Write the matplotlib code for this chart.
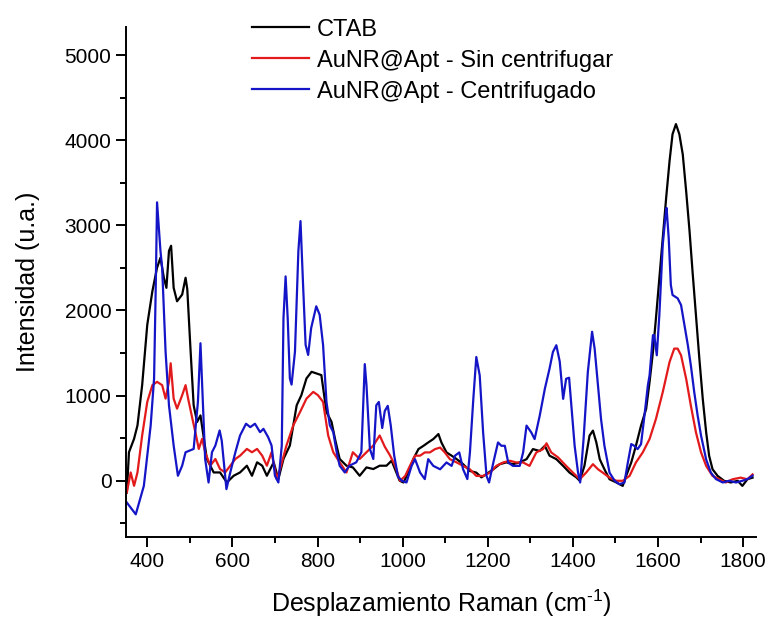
import matplotlib
matplotlib.use("Agg")
import matplotlib.pyplot as plt
from matplotlib.ticker import MultipleLocator

plt.rcParams["font.family"] = ["Liberation Sans", "DejaVu Sans"]
plt.rcParams["mathtext.fontset"] = "custom"
plt.rcParams["mathtext.rm"] = "Liberation Sans"

# Raman spectra (cm-1, a.u.)
ctab_x = [352, 357, 369, 377, 388, 400, 412, 423, 431, 439, 445, 451, 456, 462, 470,
          482, 490, 494, 501, 509, 517, 525, 532, 540, 556, 571, 587, 603, 618, 634,
          646, 658, 670, 681, 697, 708, 720, 735, 751, 762, 774, 786, 797, 809, 821,
          833, 841, 852, 868, 883, 899, 915, 931, 946, 962, 974, 982, 993, 1002, 1013,
          1025, 1037, 1049, 1060, 1072, 1084, 1091, 1103, 1115, 1127, 1142, 1158, 1173,
          1185, 1197, 1213, 1228, 1244, 1259, 1275, 1291, 1306, 1322, 1334, 1345, 1361,
          1377, 1392, 1408, 1416, 1427, 1439, 1447, 1455, 1463, 1474, 1486, 1502, 1517,
          1525, 1537, 1548, 1560, 1572, 1580, 1588, 1595, 1603, 1611, 1619, 1627, 1634,
          1642, 1650, 1658, 1666, 1674, 1681, 1689, 1697, 1705, 1713, 1720, 1728, 1740,
          1755, 1771, 1787, 1798, 1810, 1822]
ctab_y = [-138, 335, 493, 650, 1123, 1832, 2226, 2502, 2620, 2384, 2266, 2700, 2760, 2266, 2108,
          2187, 2384, 2250, 1596, 886, 690, 768, 532, 256, 98, 98, -20, 59, 98, 177,
          59, 217, 177, 59, 217, 20, 256, 414, 886, 1005, 1202, 1280, 1261, 1241, 808,
          690, 493, 256, 177, 157, 59, 157, 138, 177, 177, 236, 138, 0, -20, 96,
          254, 372, 411, 450, 490, 549, 450, 333, 295, 254, 195, 115, 96,
          40, 80, 135, 195, 216, 195, 216, 254, 372, 350, 411, 295, 254,
          175, 96, 40, 0, 175, 530, 589, 450, 253, 135, 18, -20, -60,
          57, 215, 411, 648, 844, 1159, 1513, 1906, 2378, 2850, 3322, 3755, 4070,
          4189, 4070, 3834, 3401, 2929, 2457, 1946, 1434, 962, 569, 293, 135, 57,
          0, -20, 0, -60, 18, 37]

sin_x = [352, 361, 369, 377, 388, 400, 412, 423, 435, 443, 451, 455, 462, 470, 482,
         490, 496, 506, 513, 521, 529, 536, 548, 560, 571, 583, 595, 607, 618, 634,
         646, 658, 670, 681, 692, 704, 712, 727, 743, 759, 774, 790, 801, 813, 825,
         837, 852, 868, 883, 899, 915, 931, 946, 958, 970, 982, 994, 1006, 1017, 1029,
         1041, 1052, 1064, 1076, 1088, 1099, 1111, 1127, 1142, 1158, 1173, 1189, 1205,
         1220, 1236, 1252, 1267, 1283, 1298, 1314, 1330, 1338, 1349, 1365, 1384, 1400,
         1416, 1431, 1447, 1459, 1470, 1486, 1502, 1517, 1533, 1548, 1564, 1580, 1595,
         1611, 1627, 1638, 1646, 1654, 1666, 1677, 1689, 1701, 1713, 1728, 1744, 1759,
         1775, 1794, 1810, 1822]
sin_y = [-138, 98, -59, 98, 532, 926, 1123, 1162, 1123, 965, 1162, 1380, 965, 847, 1005,
         1123, 965, 729, 571, 374, 493, 335, 177, 256, 138, 98, 177, 256, 295, 374,
         335, 374, 295, 177, 335, 20, 138, 414, 650, 808, 965, 1044, 1005, 926, 532,
         335, 217, 98, 335, 256, 335, 414, 532, 400, 300, 180, 0, 57, 175, 295,
         295, 333, 333, 372, 390, 333, 254, 215, 175, 135, 57, 57, 96,
         175, 215, 235, 215, 215, 175, 333, 372, 440, 333, 275, 175, 96,
         18, 96, 195, 135, 96, 37, 0, 0, 57, 215, 333, 490, 726,
         1041, 1395, 1552, 1552, 1474, 1198, 883, 569, 333, 175, 57, 18, -20,
         18, 37, 18, 75]

cen_x = [352, 373, 392, 408, 416, 420, 423, 431, 435, 443, 451, 462, 472, 482, 490,
         509, 519, 525, 529, 536, 544, 552, 560, 570, 575, 586, 595, 607, 618, 632,
         642, 653, 665, 673, 684, 692, 700, 708, 716, 720, 725, 730, 735, 739, 747,
         755, 760, 766, 772, 778, 785, 797, 805, 813, 821, 829, 837, 845, 852, 864,
         875, 891, 903, 911, 915, 923, 931, 938, 944, 952, 958, 965, 972, 980, 989,
         998, 1009, 1021, 1029, 1041, 1052, 1060, 1072, 1088, 1103, 1115, 1123, 1133,
         1142, 1152, 1158, 1166, 1173, 1181, 1189, 1197, 1203, 1213, 1224, 1232, 1240,
         1248, 1259, 1275, 1283, 1291, 1302, 1310, 1322, 1334, 1345, 1353, 1361, 1369,
         1377, 1384, 1391, 1396, 1404, 1412, 1417, 1425, 1435, 1445, 1451, 1459, 1466,
         1474, 1486, 1498, 1509, 1521, 1529, 1537, 1544, 1552, 1560, 1568, 1576, 1580,
         1588, 1591, 1597, 1603, 1611, 1617, 1620, 1625, 1630, 1634, 1646, 1654, 1662,
         1670, 1677, 1685, 1693, 1701, 1713, 1724, 1736, 1752, 1767, 1783, 1798, 1810,
         1822]
cen_y = [-256, -394, -59, 650, 1200, 2300, 3270, 2700, 2500, 1517, 886, 414, 59, 177, 335,
         374, 926, 1615, 1123, 256, -20, 335, 414, 591, 470, -98, 98, 335, 532, 670,
         630, 670, 571, 610, 512, 414, 59, -20, 414, 1911, 2400, 1900, 1202, 1130, 1517,
         2699, 3050, 2305, 1596, 1478, 1793, 2049, 1950, 1596, 926, 650, 571, 335, 177, 98,
         177, 217, 335, 1370, 1123, 374, 256, 886, 926, 620, 820, 880, 650, 300, 50,
         0, -20, 175, 254, 96, 20, 254, 175, 135, 215, 175, 295, 333,
         135, 20, 333, 962, 1454, 1238, 569, 57, -20, 214, 450, 411, 411,
         214, 175, 175, 333, 648, 569, 490, 765, 1080, 1316, 1513, 1592, 1400,
         962, 1198, 1210, 900, 411, 96, -20, 490, 1277, 1750, 1552, 1119, 726,
         411, 96, 0, -40, -20, 214, 431, 411, 372, 430, 765, 1119, 1237,
         1710, 1710, 1474, 1946, 2772, 3087, 3205, 2850, 2300, 2182, 2143, 2064, 1828,
         1592, 1356, 1041, 766, 530, 250, 96, 20, -20, 0, -20, 0, 20,
         60]

labels = ["CTAB", "AuNR@Apt - Sin centrifugar", "AuNR@Apt - Centrifugado"]
colors = ["black", "#e31a1c", "#1515c8"]

fig = plt.figure(figsize=(7.71, 6.19), dpi=100)
ax = fig.add_axes([0.1634, 0.1325, 0.8171, 0.824])

ax.plot(ctab_x, ctab_y, color=colors[0], lw=1.6, label=labels[0])
ax.plot(sin_x, sin_y, color=colors[1], lw=1.6, label=labels[1])
ax.plot(cen_x, cen_y, color=colors[2], lw=1.6, label=labels[2])

ax.set_xlim(350, 1830)
ax.set_ylim(-660, 5330)
ax.xaxis.set_minor_locator(MultipleLocator(100))
ax.yaxis.set_major_locator(MultipleLocator(1000))
ax.yaxis.set_minor_locator(MultipleLocator(500))
ax.set_xticks(range(400, 1801, 200))

for side in ["top", "right"]:
    ax.spines[side].set_visible(False)
for side in ["left", "bottom"]:
    ax.spines[side].set_linewidth(1.4)

ax.tick_params(which="major", direction="out", length=7, width=1.4, labelsize=15)
ax.tick_params(which="minor", direction="out", length=4, width=1.4)

ax.set_xlabel(r"Desplazamiento Raman (cm$^{\mathregular{\text{-}1}}$)", fontsize=18, labelpad=12)
ax.set_ylabel("Intensidad (u.a.)", fontsize=18, labelpad=18)

ax.legend(loc="upper left", bbox_to_anchor=(0.327, 0.97), bbox_transform=fig.transFigure,
          frameon=False, fontsize=17, handlelength=2.4, handletextpad=0.35,
          labelspacing=0.38, borderpad=0, borderaxespad=0)

fig.savefig("out.png", dpi=100)
plt.close(fig)
